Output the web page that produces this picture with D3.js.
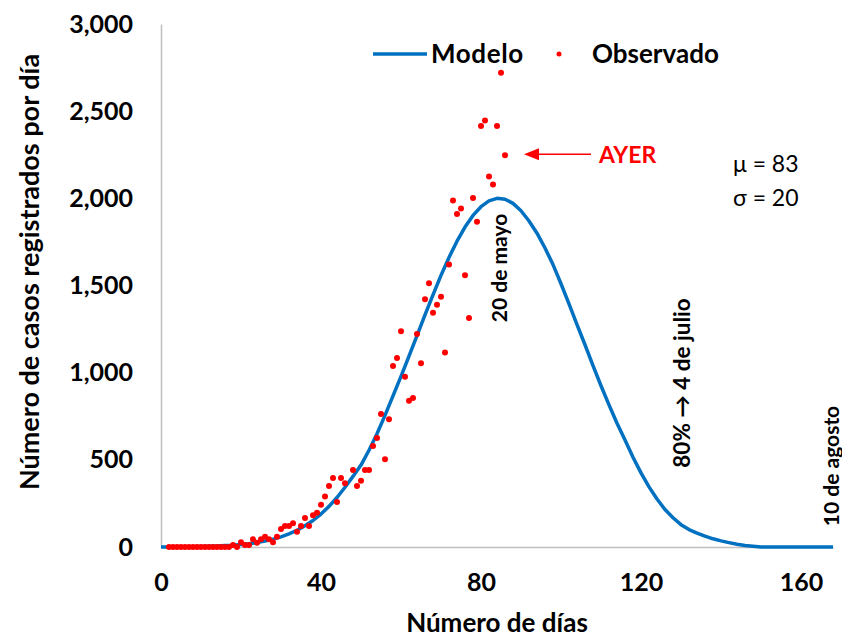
<!DOCTYPE html>
<html>
<head>
<meta charset="utf-8">
<script src="https://cdn.jsdelivr.net/npm/d3@7"></script>
<style>
  body { margin: 0; background: #fff; }
  text { font-family: Lato, "Open Sans", sans-serif; }
</style>
</head>
<body>
<div id="chart"></div>
<script>
const obsDays = [2,3,4,5,6,7,8,9,10,11,12,13,14,15,16,17,
    18,19,20,21,22,23,24,25,26,27,28,29,30,31,32,33,34,35,36,37,38,39,40,41,42,43,44,45,46,
    48,49,50,51,52,53,54,55,56,57,
    58,59,60,61,62,63,64,65,66,67,68,69,70,71,72,73,74,75,76,77,78,79,80,81,82,83,84,85,86];
const obsValues = [0,0,0,0,0,0,0,0,0,0,0,0,0,0,0,0,
    11,0,27,11,11,44,25,44,59,44,27,59,103,120,120,136,88,120,166,120,182,197,243,289,350,396,258,396,365,
    442,350,380,442,442,580,625,763,503,733,
    1038,1084,1237,977,839,855,1222,1054,1421,1513,1344,1390,1436,1115,1620,1987,1910,1941,1559,1314,2002,1865,2415,2446,2125,2079,2415,2721,2247];

// model curve, every 2 days
const modelDays = d3.range(0, 170, 2);
const modelValues = [0,0,0,0,1,3,4,6,8,10,14,19,26,34,45,58,75,96,122,152,189,233,284,343,405,470,555,650,755,867,
    979,1095,1213,1331,1446,1558,1661,1754,1835,1902,1952,1985,2000,1995,1971,1929,1870,1800,1715,1620,1510,1395,1275,1160,1040,925,
    815,710,614,515,425,345,275,215,168,128,100,80,62,47,35,25,16,9,4,0,0,0,0,0,0,0,0,0,0,0];

const xTicks = [0, 40, 80, 120, 160];
const yTicks = [0, 500, 1000, 1500, 2000, 2500, 3000];

const width = 842, height = 640;
const margin = {top: 24, right: 9, bottom: 93, left: 161};

const svg = d3.select("#chart").append("svg")
    .attr("width", width)
    .attr("height", height);

const x = d3.scaleLinear().domain([0, 168]).range([margin.left, width - margin.right]);
const y = d3.scaleLinear().domain([0, 3000]).range([height - margin.bottom, margin.top]);

// axes
const xAxis = svg.append("g")
    .attr("transform", `translate(0, ${y(0)})`)
    .call(d3.axisBottom(x).tickValues(xTicks).tickSize(0).tickPadding(26).tickSizeOuter(0));
const yAxis = svg.append("g")
    .attr("transform", `translate(${x(0)}, 0)`)
    .call(d3.axisLeft(y).tickValues(yTicks).tickSize(0).tickPadding(28).tickSizeOuter(0)
        .tickFormat(d3.format(",")));

[xAxis, yAxis].forEach(function (g) {
    g.select(".domain").attr("stroke", "#bfbfbf").attr("stroke-width", 1.5);
    g.selectAll("text")
        .attr("font-family", "Lato, sans-serif")
        .attr("font-weight", "bold")
        .attr("font-size", 25)
        .attr("fill", "#000");
});

// axis titles
svg.append("text")
    .attr("x", 497).attr("y", 632)
    .attr("text-anchor", "middle")
    .attr("font-weight", "bold").attr("font-size", 26)
    .text("Número de días");
svg.append("text")
    .attr("transform", "translate(39, 272) rotate(-90)")
    .attr("text-anchor", "middle")
    .attr("font-weight", "bold").attr("font-size", 27)
    .text("Número de casos registrados por día");

// model line
const line = d3.line()
    .x(function (d, i) { return x(modelDays[i]); })
    .y(function (d) { return y(d); });
svg.append("path")
    .datum(modelValues)
    .attr("fill", "none")
    .attr("stroke", "#0070c0")
    .attr("stroke-width", 3.5)
    .attr("stroke-linejoin", "round")
    .attr("d", line);

// observed points
svg.selectAll(".obs")
    .data(obsValues)
    .enter().append("circle")
    .attr("class", "obs")
    .attr("cx", function (d, i) { return x(obsDays[i]); })
    .attr("cy", function (d) { return y(d); })
    .attr("r", 3)
    .attr("fill", "#ff0000");

// legend
svg.append("line")
    .attr("x1", 373).attr("x2", 427).attr("y1", 54).attr("y2", 54)
    .attr("stroke", "#0070c0").attr("stroke-width", 3.5);
svg.append("text")
    .attr("x", 431).attr("y", 63)
    .attr("font-weight", "bold").attr("font-size", 26)
    .attr("letter-spacing", 0.6)
    .text("Modelo");
svg.append("circle")
    .attr("cx", 559).attr("cy", 54).attr("r", 2.5).attr("fill", "#ff0000");
svg.append("text")
    .attr("x", 592).attr("y", 63)
    .attr("font-weight", "bold").attr("font-size", 26)
    .text("Observado");

// AYER arrow pointing at last observation
const lastX = x(obsDays[obsDays.length - 1]);
const lastY = y(obsValues[obsValues.length - 1]);
svg.append("line")
    .attr("x1", lastX + 32).attr("x2", lastX + 86)
    .attr("y1", lastY - 1).attr("y2", lastY - 1)
    .attr("stroke", "#ff0000").attr("stroke-width", 1.5);
svg.append("path")
    .attr("d", `M${lastX + 19},${lastY - 1} L${lastX + 34},${lastY - 7} L${lastX + 34},${lastY + 5} Z`)
    .attr("fill", "#ff0000");
svg.append("text")
    .attr("x", lastX + 94).attr("y", lastY + 8)
    .attr("font-weight", "bold").attr("font-size", 23)
    .attr("fill", "#ff0000")
    .text("AYER");

// parameters
svg.append("text")
    .attr("x", 733).attr("y", 172)
    .attr("font-family", "'Liberation Sans', Arial, sans-serif")
    .attr("font-size", 23)
    .text("μ = 83");
svg.append("text")
    .attr("x", 733).attr("y", 206)
    .attr("font-family", "'Liberation Sans', Arial, sans-serif")
    .attr("font-size", 23)
    .text("σ = 20");

// vertical date notes
function vText(cx, cy, txt, size) {
    svg.append("text")
        .attr("transform", `translate(${cx}, ${cy}) rotate(-90)`)
        .attr("text-anchor", "middle")
        .attr("dominant-baseline", "central")
        .attr("font-weight", "bold").attr("font-size", size)
        .text(txt);
}
vText(498, 268, "20 de mayo", 21);
vText(681, 383, "80% \u2192 4 de julio", 22.5);
vText(830, 466, "10 de agosto", 21);
</script>
</body>
</html>
